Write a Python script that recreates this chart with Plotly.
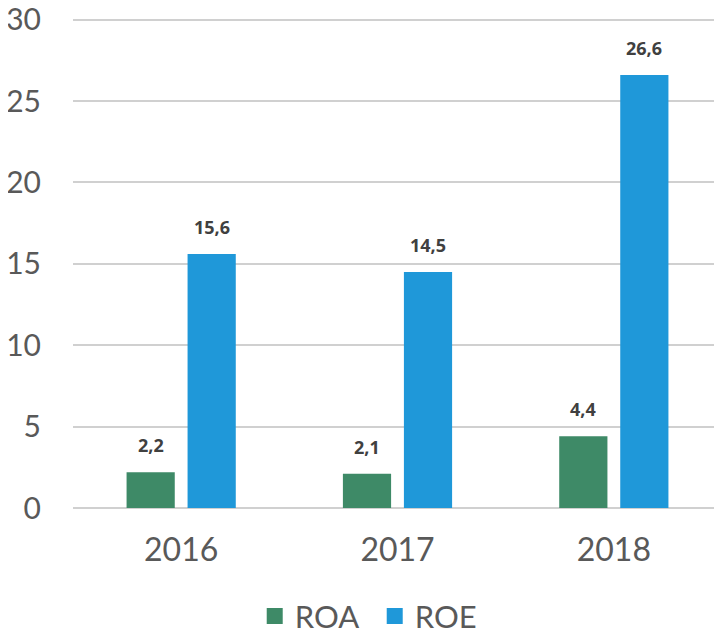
import plotly.graph_objects as go

years = ["2016", "2017", "2018"]
roa = [2.2, 2.1, 4.4]
roe = [15.6, 14.5, 26.6]
y_ticks = [0, 5, 10, 15, 20, 25, 30]
series_names = ["ROA", "ROE"]
colors = ["#3E8A67", "#1F98D9"]

def fmt(v):
    return f"{v:.1f}".replace(".", ",")

fig = go.Figure()
for name, vals, col in zip(series_names, (roa, roe), colors):
    fig.add_trace(go.Bar(name=name, x=years, y=vals, marker=dict(color=col, line=dict(width=0)),
                         showlegend=False))
# legend entries with larger square swatches
for name, col in zip(series_names, colors):
    fig.add_trace(go.Scatter(name=name, x=[None], y=[None], mode="markers",
                             marker=dict(symbol="square", size=19, color=col), showlegend=True))

for vals, shift in ((roa, -30.5), (roe, 30.5)):
    for i, v in enumerate(vals):
        fig.add_annotation(x=i, y=v, xref="x", yref="y", text=f"<b>{fmt(v)}</b>", showarrow=False,
                           xshift=shift, yanchor="bottom", yshift=13,
                           font=dict(family="Open Sans", size=18, color="#404040"))

fig.update_layout(
    width=722, height=634,
    margin=dict(l=65, r=8, t=10, b=134, autoexpand=False),
    paper_bgcolor="white", plot_bgcolor="white",
    barmode="group", bargap=0.436, bargroupgap=0.21,
    font=dict(family="Lato", color="#595959"),
    xaxis=dict(type="category", tickfont=dict(size=32, color="#595959"), showgrid=False, showline=False,
               ticks="outside", ticklen=14, tickcolor="rgba(0,0,0,0)", zeroline=False),
    yaxis=dict(range=[0, 30.1], tickvals=y_ticks, tickfont=dict(size=30, color="#595959"),
               showgrid=True, gridcolor="#D0D0D0", gridwidth=2, zeroline=True, zerolinecolor="#D0D0D0",
               zerolinewidth=2, ticks="outside", ticklen=25, tickcolor="rgba(0,0,0,0)",
               ticklabeloverflow="allow"),
    legend=dict(orientation="h", x=0.28, xanchor="left", y=-0.221, yanchor="middle",
                font=dict(size=31, color="#595959"), itemwidth=30, traceorder="normal",
                entrywidth=75, entrywidthmode="pixels"),
    showlegend=True,
)

fig.write_html("out.html")
